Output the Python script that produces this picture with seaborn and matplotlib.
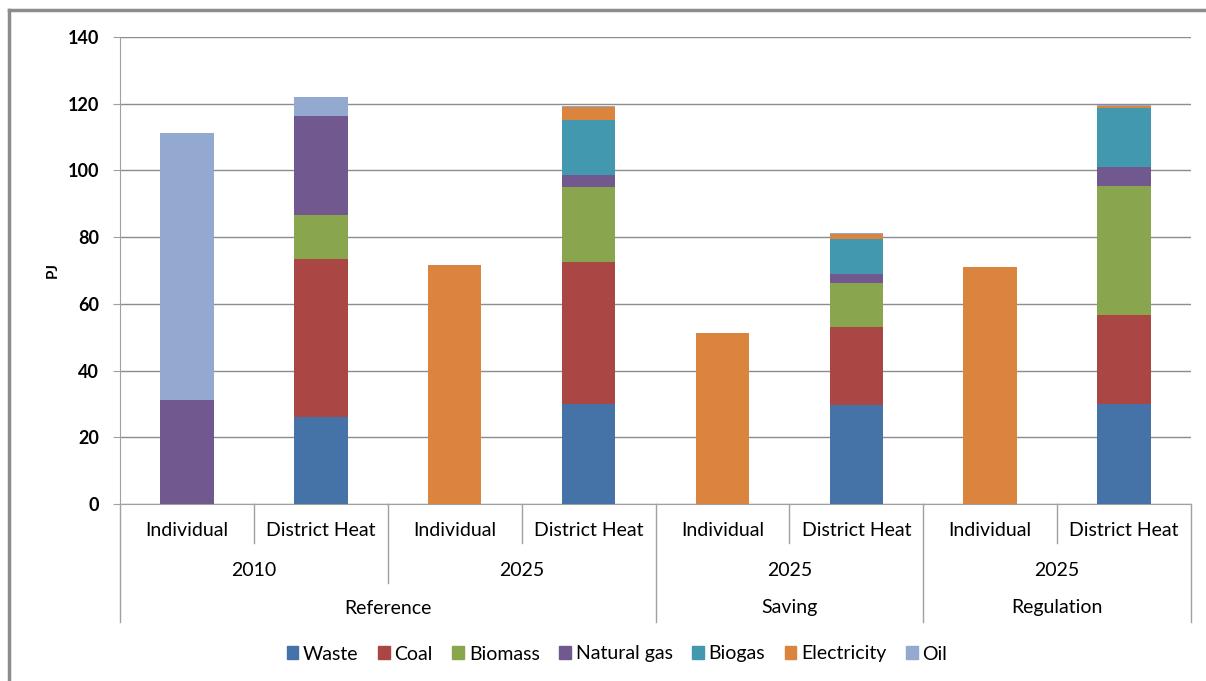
import matplotlib.pyplot as plt
from matplotlib.lines import Line2D
from matplotlib.patches import Patch
from matplotlib import transforms
import seaborn as sns
import numpy as np
import pandas as pd

# categories (scenario / year / type)
scenarios = ['Reference', 'Saving', 'Regulation']
years = ['2010', '2025', '2025', '2025']
types = ['Individual', 'District Heat'] * 4
cat_ids = ['Ref2010 Ind', 'Ref2010 DH', 'Ref2025 Ind', 'Ref2025 DH',
           'Sav2025 Ind', 'Sav2025 DH', 'Reg2025 Ind', 'Reg2025 DH']

fuels = ['Waste', 'Coal', 'Biomass', 'Natural gas', 'Biogas', 'Electricity', 'Oil']
waste       = [0,    26.0, 0,    30.1, 0,    29.7, 0,    30.1]
coal        = [0,    47.3, 0,    42.5, 0,    23.5, 0,    26.6]
biomass     = [0,    13.4, 0,    22.4, 0,    13.0, 0,    38.6]
natural_gas = [31.1, 29.6, 0,    3.6,  0,    2.8,  0,    5.7]
biogas      = [0,    0,    0,    16.6, 0,    10.4, 0,    17.8]
electricity = [0,    0,    71.5, 3.7,  51.3, 1.6,  71.1, 0.5]
oil         = [80.0, 5.8,  0,    0.4,  0,    0.3,  0,    0.4]

colors = ['#4572A7', '#AA4643', '#89A54E', '#71588F', '#4198AF', '#DB843D', '#93A9CF']

df = pd.DataFrame({'cat': cat_ids, 'Waste': waste, 'Coal': coal, 'Biomass': biomass,
                   'Natural gas': natural_gas, 'Biogas': biogas,
                   'Electricity': electricity, 'Oil': oil})
cum = df[fuels].cumsum(axis=1)

plt.rcParams['font.family'] = ['Lato', 'DejaVu Sans']
plt.rcParams['text.color'] = 'black'
fig = plt.figure(figsize=(12.06, 6.81), dpi=100)
ax = fig.add_axes([120/1206, 1-504/681, 1071/1206, 467/681])

# draw cumulative totals from top layer down so each layer covers the next
for i in range(len(fuels)-1, -1, -1):
    sns.barplot(x=df['cat'], y=cum[fuels[i]], color=colors[i], saturation=1,
                width=0.4, linewidth=0, ax=ax, order=cat_ids, zorder=3)

ax.set_xlim(-0.5, 7.5)
ax.set_ylim(0, 140)
ax.set_yticks(range(0, 141, 20))
ax.yaxis.grid(True, color='#8c8c8c', linewidth=1)
ax.set_axisbelow(True)
for s in ['top', 'right']:
    ax.spines[s].set_visible(False)
ax.spines['left'].set_color('#a0a0a0')
ax.spines['bottom'].set_color('#a0a0a0')
ax.tick_params(axis='y', length=5, color='#a0a0a0', pad=10, labelsize=13, labelcolor='black')
ax.tick_params(axis='x', length=0, labelbottom=False)
for lbl in ax.get_yticklabels():
    lbl.set_fontweight('bold')
ax.set_xlabel('')
ax.set_ylabel('PJ', fontsize=11, fontweight='bold', labelpad=6)

# multi-level category axis
tr = transforms.blended_transform_factory(ax.transData, ax.transAxes)
def ypos(px):
    return (504 - px) / 467

fs = 14
for i, t in enumerate(types):
    ax.text(i, ypos(530), t, transform=tr, ha='center', va='center', fontsize=fs)
for j, y in enumerate(years):
    ax.text(2*j + 0.5, ypos(570), y, transform=tr, ha='center', va='center', fontsize=fs)
ax.text(1.5, ypos(608), scenarios[0], transform=tr, ha='center', va='center', fontsize=fs)
ax.text(4.5, ypos(608), scenarios[1], transform=tr, ha='center', va='center', fontsize=fs)
ax.text(6.5, ypos(608), scenarios[2], transform=tr, ha='center', va='center', fontsize=fs)

sep = [(0.5, 543), (2.5, 543), (4.5, 543), (6.5, 543), (1.5, 583),
       (-0.5, 622), (3.5, 622), (5.5, 622), (7.5, 622)]
for x, end in sep:
    ax.add_line(Line2D([x, x], [0, ypos(end)], transform=tr, color='#a0a0a0',
                       linewidth=1, clip_on=False))

handles = [Patch(color=c, label=f) for c, f in zip(colors, fuels)]
fig.legend(handles=handles, loc='center', bbox_to_anchor=(617/1206, 1-654/681),
           ncol=7, frameon=False, fontsize=fs, handlelength=0.6, handleheight=0.6,
           handletextpad=0.25, columnspacing=1.0)

# outer chart border (left and top only visible)
fig.add_artist(Line2D([9/1206, 9/1206], [0, 1-10/681], color='#8c8c8c', linewidth=2.5))
fig.add_artist(Line2D([9/1206, 1], [1-10/681, 1-10/681], color='#8c8c8c', linewidth=2.5))

fig.savefig('out.png', dpi=100)
